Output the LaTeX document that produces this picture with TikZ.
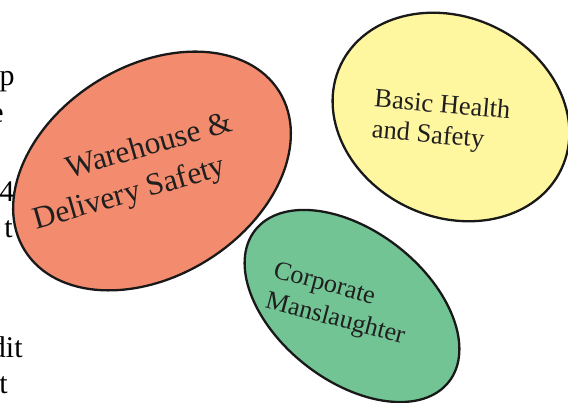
\documentclass[tikz,border=0pt]{standalone}
\usepackage{fontspec}
\setmainfont{Liberation Serif}
\usepackage{xcolor}
\usetikzlibrary{shapes}
\definecolor{warehousecol}{RGB}{243,140,110}
\definecolor{healthcol}{RGB}{255,246,160}
\definecolor{manslcol}{RGB}{114,196,148}
\begin{document}
\begin{tikzpicture}[x=1pt,y=1pt,thick,
  topic node/.style={ellipse,draw=black!90,line width=2.3pt,inner sep=0pt},
  topic text/.style={text=black!88,inner sep=0pt},
  page text/.style={anchor=base east,inner sep=0pt,font=\fontsize{30}{35}\selectfont}]
\useasboundingbox (0,0) rectangle (568,403);
\clip (0,0) rectangle (568,403);
\node[page text] (p1) at (15,317) {p};
\node[page text] (p2) at (4,280) {e};
\node[page text] (p3) at (28,201) {4e};
\node[page text] (p4) at (13,165) {t};
\node[page text] (p5) at (23,45) {dit};
\node[page text] (p6) at (8,9) {t};
\node[topic node,fill=warehousecol,minimum width=300pt,minimum height=210pt,rotate=32] (v1) at (152,232) {};
\node[topic node,fill=healthcol,minimum width=244pt,minimum height=200pt,rotate=-25] (v2) at (451,286) {};
\node[topic node,fill=manslcol,minimum width=246pt,minimum height=150pt,rotate=-38] (v3) at (352,97) {};
\node[topic text,align=left,rotate=16,font=\fontsize{31.5}{40}\selectfont] (t1) at (133,230) {\hspace*{1.45em}Warehouse \&\\Delivery Safety};
\node[topic text,align=left,rotate=-5,font=\fontsize{26.5}{31}\selectfont] (t2) at (441,281) {Basic Health\\and Safety};
\node[topic text,align=left,rotate=-15,font=\fontsize{26}{31}\selectfont] (t3) at (339,98) {Corporate\\Manslaughter};
\end{tikzpicture}
\end{document}
